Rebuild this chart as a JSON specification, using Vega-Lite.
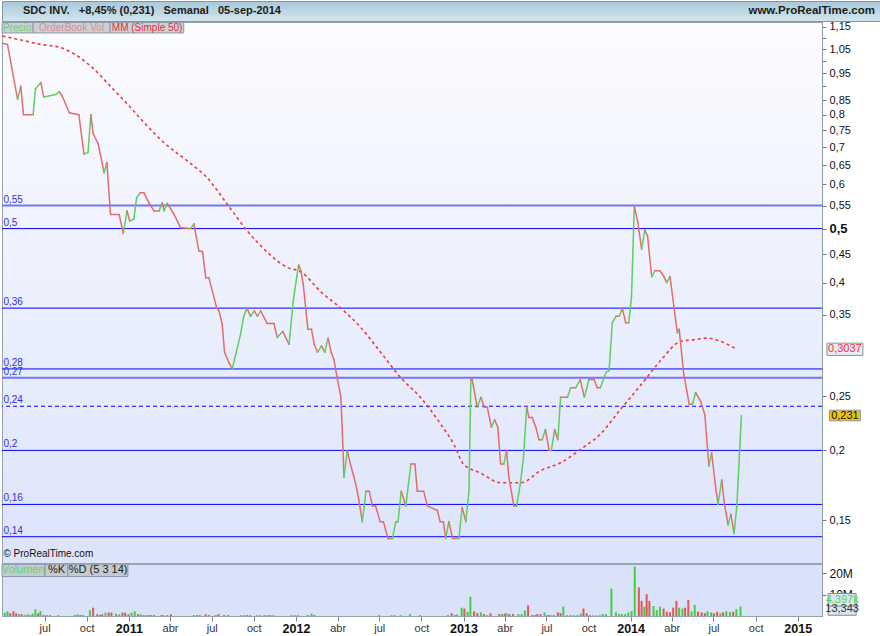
{
  "$schema": "https://vega.github.io/schema/vega-lite/v6.json",
  "padding": {"left": -2, "top": 0, "right": 0, "bottom": 0},
  "background": "#ffffff",
  "spacing": 1,
  "bounds": "flush",
  "config": {"font": "Liberation Sans", "view": {"stroke": null}},
  "datasets": {
    "price": [
      {"date": "2010-03-31", "close": 1.075}, {"date": "2010-04-11", "close": 1.07}, {"date": "2010-05-03", "close": 0.853},
      {"date": "2010-05-10", "close": 0.9}, {"date": "2010-05-16", "close": 0.8}, {"date": "2010-06-06", "close": 0.8},
      {"date": "2010-06-11", "close": 0.89}, {"date": "2010-06-23", "close": 0.914}, {"date": "2010-06-29", "close": 0.861},
      {"date": "2010-07-25", "close": 0.87}, {"date": "2010-08-02", "close": 0.88}, {"date": "2010-08-09", "close": 0.863},
      {"date": "2010-08-24", "close": 0.807}, {"date": "2010-09-14", "close": 0.8}, {"date": "2010-09-25", "close": 0.68},
      {"date": "2010-10-04", "close": 0.685}, {"date": "2010-10-10", "close": 0.8}, {"date": "2010-10-15", "close": 0.74},
      {"date": "2010-10-26", "close": 0.71}, {"date": "2010-11-08", "close": 0.63}, {"date": "2010-11-14", "close": 0.657},
      {"date": "2010-11-22", "close": 0.53}, {"date": "2010-12-11", "close": 0.53}, {"date": "2010-12-20", "close": 0.49},
      {"date": "2010-12-28", "close": 0.538}, {"date": "2011-01-03", "close": 0.516}, {"date": "2011-01-12", "close": 0.52},
      {"date": "2011-01-18", "close": 0.568}, {"date": "2011-01-26", "close": 0.58}, {"date": "2011-02-03", "close": 0.58},
      {"date": "2011-02-14", "close": 0.556}, {"date": "2011-02-25", "close": 0.538}, {"date": "2011-03-08", "close": 0.538},
      {"date": "2011-03-15", "close": 0.556}, {"date": "2011-03-19", "close": 0.538}, {"date": "2011-03-26", "close": 0.555},
      {"date": "2011-04-10", "close": 0.53}, {"date": "2011-04-24", "close": 0.502}, {"date": "2011-05-16", "close": 0.5},
      {"date": "2011-05-23", "close": 0.51}, {"date": "2011-06-03", "close": 0.456}, {"date": "2011-06-11", "close": 0.455},
      {"date": "2011-06-18", "close": 0.408}, {"date": "2011-06-25", "close": 0.408}, {"date": "2011-07-12", "close": 0.36},
      {"date": "2011-07-17", "close": 0.356}, {"date": "2011-07-24", "close": 0.337}, {"date": "2011-07-29", "close": 0.3},
      {"date": "2011-08-08", "close": 0.287}, {"date": "2011-08-15", "close": 0.28}, {"date": "2011-09-02", "close": 0.323},
      {"date": "2011-09-09", "close": 0.348}, {"date": "2011-09-16", "close": 0.36}, {"date": "2011-09-24", "close": 0.348},
      {"date": "2011-10-02", "close": 0.356}, {"date": "2011-10-09", "close": 0.348}, {"date": "2011-10-16", "close": 0.356},
      {"date": "2011-10-30", "close": 0.338}, {"date": "2011-11-14", "close": 0.338}, {"date": "2011-11-21", "close": 0.319},
      {"date": "2011-12-03", "close": 0.327}, {"date": "2011-12-17", "close": 0.31}, {"date": "2011-12-26", "close": 0.37},
      {"date": "2012-01-03", "close": 0.411}, {"date": "2012-01-07", "close": 0.43}, {"date": "2012-01-12", "close": 0.42},
      {"date": "2012-01-17", "close": 0.397}, {"date": "2012-01-27", "close": 0.33}, {"date": "2012-02-04", "close": 0.33},
      {"date": "2012-02-10", "close": 0.31}, {"date": "2012-02-17", "close": 0.3}, {"date": "2012-02-26", "close": 0.308},
      {"date": "2012-03-04", "close": 0.3}, {"date": "2012-03-11", "close": 0.318}, {"date": "2012-03-18", "close": 0.3},
      {"date": "2012-03-24", "close": 0.291}, {"date": "2012-03-31", "close": 0.27}, {"date": "2012-04-08", "close": 0.25},
      {"date": "2012-04-11", "close": 0.22}, {"date": "2012-04-15", "close": 0.179}, {"date": "2012-04-22", "close": 0.2},
      {"date": "2012-04-29", "close": 0.189}, {"date": "2012-05-07", "close": 0.179}, {"date": "2012-05-14", "close": 0.169},
      {"date": "2012-05-25", "close": 0.149}, {"date": "2012-06-02", "close": 0.169}, {"date": "2012-06-09", "close": 0.169},
      {"date": "2012-06-16", "close": 0.159}, {"date": "2012-06-23", "close": 0.159}, {"date": "2012-07-03", "close": 0.149},
      {"date": "2012-07-10", "close": 0.149}, {"date": "2012-07-20", "close": 0.139}, {"date": "2012-07-30", "close": 0.139},
      {"date": "2012-08-06", "close": 0.149}, {"date": "2012-08-11", "close": 0.149}, {"date": "2012-08-18", "close": 0.169},
      {"date": "2012-08-28", "close": 0.159}, {"date": "2012-09-08", "close": 0.189}, {"date": "2012-09-17", "close": 0.189},
      {"date": "2012-09-22", "close": 0.169}, {"date": "2012-10-06", "close": 0.169}, {"date": "2012-10-14", "close": 0.159},
      {"date": "2012-11-05", "close": 0.156}, {"date": "2012-11-11", "close": 0.149}, {"date": "2012-11-18", "close": 0.149},
      {"date": "2012-11-23", "close": 0.139}, {"date": "2012-11-30", "close": 0.149}, {"date": "2012-12-08", "close": 0.139},
      {"date": "2012-12-22", "close": 0.139}, {"date": "2012-12-29", "close": 0.158}, {"date": "2013-01-06", "close": 0.149},
      {"date": "2013-01-13", "close": 0.169}, {"date": "2013-01-17", "close": 0.268}, {"date": "2013-01-20", "close": 0.268},
      {"date": "2013-01-31", "close": 0.239}, {"date": "2013-02-08", "close": 0.249}, {"date": "2013-02-15", "close": 0.239},
      {"date": "2013-02-22", "close": 0.239}, {"date": "2013-03-03", "close": 0.22}, {"date": "2013-03-10", "close": 0.227},
      {"date": "2013-03-17", "close": 0.22}, {"date": "2013-03-23", "close": 0.189}, {"date": "2013-03-30", "close": 0.189},
      {"date": "2013-04-05", "close": 0.2}, {"date": "2013-04-10", "close": 0.179}, {"date": "2013-04-21", "close": 0.159},
      {"date": "2013-04-27", "close": 0.159}, {"date": "2013-05-05", "close": 0.174}, {"date": "2013-05-12", "close": 0.194},
      {"date": "2013-05-19", "close": 0.239}, {"date": "2013-05-24", "close": 0.229}, {"date": "2013-05-31", "close": 0.229},
      {"date": "2013-06-08", "close": 0.22}, {"date": "2013-06-15", "close": 0.209}, {"date": "2013-06-22", "close": 0.209},
      {"date": "2013-06-29", "close": 0.218}, {"date": "2013-07-07", "close": 0.2}, {"date": "2013-07-12", "close": 0.2},
      {"date": "2013-07-19", "close": 0.218}, {"date": "2013-07-26", "close": 0.209}, {"date": "2013-08-01", "close": 0.249},
      {"date": "2013-08-16", "close": 0.249}, {"date": "2013-08-23", "close": 0.259}, {"date": "2013-09-03", "close": 0.259},
      {"date": "2013-09-13", "close": 0.268}, {"date": "2013-09-22", "close": 0.249}, {"date": "2013-10-02", "close": 0.268},
      {"date": "2013-10-13", "close": 0.268}, {"date": "2013-10-20", "close": 0.259}, {"date": "2013-10-27", "close": 0.259},
      {"date": "2013-11-08", "close": 0.276}, {"date": "2013-11-15", "close": 0.278}, {"date": "2013-11-22", "close": 0.339},
      {"date": "2013-11-30", "close": 0.348}, {"date": "2013-12-07", "close": 0.348}, {"date": "2013-12-14", "close": 0.36},
      {"date": "2013-12-21", "close": 0.339}, {"date": "2013-12-28", "close": 0.339}, {"date": "2014-01-03", "close": 0.378},
      {"date": "2014-01-09", "close": 0.549}, {"date": "2014-01-17", "close": 0.512}, {"date": "2014-01-25", "close": 0.459},
      {"date": "2014-02-01", "close": 0.497}, {"date": "2014-02-07", "close": 0.485}, {"date": "2014-02-16", "close": 0.41},
      {"date": "2014-02-23", "close": 0.42}, {"date": "2014-03-06", "close": 0.42}, {"date": "2014-03-14", "close": 0.411},
      {"date": "2014-03-21", "close": 0.4}, {"date": "2014-03-28", "close": 0.41}, {"date": "2014-04-06", "close": 0.36},
      {"date": "2014-04-13", "close": 0.325}, {"date": "2014-04-17", "close": 0.33}, {"date": "2014-04-27", "close": 0.274},
      {"date": "2014-05-09", "close": 0.242}, {"date": "2014-05-16", "close": 0.242}, {"date": "2014-05-23", "close": 0.254},
      {"date": "2014-06-03", "close": 0.245}, {"date": "2014-06-12", "close": 0.232}, {"date": "2014-06-21", "close": 0.1875},
      {"date": "2014-06-27", "close": 0.198}, {"date": "2014-07-06", "close": 0.171}, {"date": "2014-07-11", "close": 0.16},
      {"date": "2014-07-19", "close": 0.177}, {"date": "2014-07-25", "close": 0.16}, {"date": "2014-08-02", "close": 0.147},
      {"date": "2014-08-08", "close": 0.1536}, {"date": "2014-08-15", "close": 0.142}, {"date": "2014-08-21", "close": 0.159},
      {"date": "2014-08-31", "close": 0.231}
    ],
    "ma": [
      {"date": "2010-03-31", "ma": 1.108}, {"date": "2010-05-10", "ma": 1.09}, {"date": "2010-06-23", "ma": 1.07},
      {"date": "2010-08-05", "ma": 1.056}, {"date": "2010-09-11", "ma": 1.02}, {"date": "2010-10-17", "ma": 0.966},
      {"date": "2010-11-22", "ma": 0.9}, {"date": "2010-12-29", "ma": 0.836}, {"date": "2011-02-04", "ma": 0.774},
      {"date": "2011-03-19", "ma": 0.713}, {"date": "2011-05-09", "ma": 0.661}, {"date": "2011-06-21", "ma": 0.617},
      {"date": "2011-08-04", "ma": 0.553}, {"date": "2011-09-17", "ma": 0.495}, {"date": "2011-10-31", "ma": 0.453},
      {"date": "2011-12-13", "ma": 0.426}, {"date": "2012-01-12", "ma": 0.418}, {"date": "2012-02-26", "ma": 0.384},
      {"date": "2012-04-08", "ma": 0.36}, {"date": "2012-05-22", "ma": 0.332}, {"date": "2012-07-04", "ma": 0.3},
      {"date": "2012-08-17", "ma": 0.27}, {"date": "2012-09-29", "ma": 0.249}, {"date": "2012-11-12", "ma": 0.223},
      {"date": "2012-12-11", "ma": 0.205}, {"date": "2013-01-01", "ma": 0.189}, {"date": "2013-02-08", "ma": 0.182},
      {"date": "2013-03-23", "ma": 0.175}, {"date": "2013-05-06", "ma": 0.175}, {"date": "2013-06-19", "ma": 0.184},
      {"date": "2013-08-01", "ma": 0.19}, {"date": "2013-09-14", "ma": 0.201}, {"date": "2013-10-27", "ma": 0.214},
      {"date": "2013-12-10", "ma": 0.237}, {"date": "2014-01-25", "ma": 0.263}, {"date": "2014-03-09", "ma": 0.291},
      {"date": "2014-04-21", "ma": 0.314}, {"date": "2014-05-20", "ma": 0.316}, {"date": "2014-06-18", "ma": 0.318},
      {"date": "2014-07-16", "ma": 0.314}, {"date": "2014-08-21", "ma": 0.3037}
    ],
    "levels": [
      {"level": 0.55, "label": "0,55"}, {"level": 0.5, "label": "0,5"}, {"level": 0.36, "label": "0,36"},
      {"level": 0.28, "label": "0,28"}, {"level": 0.27, "label": "0,27"}, {"level": 0.24, "label": "0,24"},
      {"level": 0.2, "label": "0,2"}, {"level": 0.16, "label": "0,16"}, {"level": 0.14, "label": "0,14"}
    ],
    "volume": [
      {"date": "2010-04-05", "volume": 1600000, "dir": "up"}, {"date": "2010-04-11", "volume": 2200000, "dir": "up"},
      {"date": "2010-04-17", "volume": 1300000, "dir": "down"}, {"date": "2010-04-24", "volume": 2200000, "dir": "down"},
      {"date": "2010-04-30", "volume": 1300000, "dir": "down"}, {"date": "2010-05-06", "volume": 900000, "dir": "up"},
      {"date": "2010-05-12", "volume": 900000, "dir": "down"}, {"date": "2010-05-19", "volume": 500000, "dir": "up"},
      {"date": "2010-05-25", "volume": 900000, "dir": "up"}, {"date": "2010-05-31", "volume": 500000, "dir": "up"},
      {"date": "2010-06-05", "volume": 1100000, "dir": "up"}, {"date": "2010-06-11", "volume": 3200000, "dir": "up"},
      {"date": "2010-06-17", "volume": 1300000, "dir": "down"}, {"date": "2010-06-22", "volume": 2400000, "dir": "up"},
      {"date": "2010-06-29", "volume": 500000, "dir": "down"}, {"date": "2010-07-06", "volume": 500000, "dir": "up"},
      {"date": "2010-07-13", "volume": 500000, "dir": "up"}, {"date": "2010-07-31", "volume": 400000, "dir": "up"},
      {"date": "2010-09-05", "volume": 400000, "dir": "down"}, {"date": "2010-09-11", "volume": 800000, "dir": "up"},
      {"date": "2010-09-17", "volume": 500000, "dir": "down"}, {"date": "2010-09-23", "volume": 400000, "dir": "down"},
      {"date": "2010-10-08", "volume": 2700000, "dir": "up"}, {"date": "2010-10-15", "volume": 3900000, "dir": "down"},
      {"date": "2010-10-24", "volume": 800000, "dir": "down"}, {"date": "2010-10-30", "volume": 500000, "dir": "down"},
      {"date": "2010-11-04", "volume": 800000, "dir": "down"}, {"date": "2010-11-11", "volume": 1600000, "dir": "up"},
      {"date": "2010-11-18", "volume": 1600000, "dir": "down"}, {"date": "2010-11-24", "volume": 1600000, "dir": "down"},
      {"date": "2010-12-04", "volume": 1100000, "dir": "up"}, {"date": "2010-12-11", "volume": 800000, "dir": "up"},
      {"date": "2010-12-18", "volume": 1600000, "dir": "down"}, {"date": "2010-12-24", "volume": 1600000, "dir": "down"},
      {"date": "2010-12-31", "volume": 800000, "dir": "down"}, {"date": "2011-01-07", "volume": 1600000, "dir": "up"},
      {"date": "2011-01-14", "volume": 2200000, "dir": "up"}, {"date": "2011-01-21", "volume": 800000, "dir": "down"},
      {"date": "2011-01-27", "volume": 800000, "dir": "up"}, {"date": "2011-02-02", "volume": 400000, "dir": "down"},
      {"date": "2011-02-08", "volume": 400000, "dir": "down"}, {"date": "2011-02-14", "volume": 400000, "dir": "down"},
      {"date": "2011-02-19", "volume": 400000, "dir": "down"}, {"date": "2011-02-25", "volume": 400000, "dir": "down"},
      {"date": "2011-03-12", "volume": 400000, "dir": "up"}, {"date": "2011-03-17", "volume": 400000, "dir": "down"},
      {"date": "2011-03-26", "volume": 400000, "dir": "down"}, {"date": "2011-04-03", "volume": 800000, "dir": "down"},
      {"date": "2011-05-23", "volume": 400000, "dir": "down"}, {"date": "2011-05-30", "volume": 400000, "dir": "down"},
      {"date": "2011-06-05", "volume": 400000, "dir": "down"}, {"date": "2011-06-18", "volume": 800000, "dir": "down"},
      {"date": "2011-06-25", "volume": 400000, "dir": "down"}, {"date": "2011-07-10", "volume": 400000, "dir": "down"},
      {"date": "2011-07-16", "volume": 800000, "dir": "down"}, {"date": "2011-07-28", "volume": 400000, "dir": "down"},
      {"date": "2011-08-06", "volume": 400000, "dir": "down"}, {"date": "2011-09-03", "volume": 400000, "dir": "up"},
      {"date": "2011-09-10", "volume": 400000, "dir": "up"}, {"date": "2011-09-16", "volume": 400000, "dir": "down"},
      {"date": "2011-09-23", "volume": 400000, "dir": "up"}, {"date": "2011-10-08", "volume": 400000, "dir": "up"},
      {"date": "2011-10-15", "volume": 400000, "dir": "up"}, {"date": "2011-10-24", "volume": 400000, "dir": "down"},
      {"date": "2011-10-31", "volume": 400000, "dir": "down"}, {"date": "2011-11-06", "volume": 400000, "dir": "down"},
      {"date": "2011-11-13", "volume": 400000, "dir": "up"}, {"date": "2011-12-22", "volume": 400000, "dir": "up"},
      {"date": "2011-12-29", "volume": 400000, "dir": "up"}, {"date": "2012-01-05", "volume": 400000, "dir": "up"},
      {"date": "2012-01-27", "volume": 400000, "dir": "down"}, {"date": "2012-02-04", "volume": 1100000, "dir": "up"},
      {"date": "2012-02-10", "volume": 400000, "dir": "down"}, {"date": "2012-07-01", "volume": 400000, "dir": "up"},
      {"date": "2012-07-28", "volume": 400000, "dir": "up"}, {"date": "2012-08-04", "volume": 400000, "dir": "up"},
      {"date": "2012-08-17", "volume": 400000, "dir": "up"}, {"date": "2012-09-06", "volume": 800000, "dir": "up"},
      {"date": "2012-09-28", "volume": 400000, "dir": "up"}, {"date": "2012-11-28", "volume": 500000, "dir": "up"},
      {"date": "2012-12-06", "volume": 1300000, "dir": "down"}, {"date": "2012-12-13", "volume": 500000, "dir": "up"},
      {"date": "2012-12-18", "volume": 700000, "dir": "up"}, {"date": "2012-12-28", "volume": 3900000, "dir": "up"},
      {"date": "2013-01-03", "volume": 3500000, "dir": "down"}, {"date": "2013-01-10", "volume": 2000000, "dir": "up"},
      {"date": "2013-01-16", "volume": 9000000, "dir": "up"}, {"date": "2013-01-24", "volume": 2200000, "dir": "down"},
      {"date": "2013-01-31", "volume": 1400000, "dir": "down"}, {"date": "2013-02-08", "volume": 1700000, "dir": "up"},
      {"date": "2013-02-15", "volume": 900000, "dir": "down"}, {"date": "2013-02-22", "volume": 400000, "dir": "up"},
      {"date": "2013-03-01", "volume": 1300000, "dir": "down"}, {"date": "2013-03-20", "volume": 900000, "dir": "down"},
      {"date": "2013-03-26", "volume": 900000, "dir": "up"}, {"date": "2013-04-01", "volume": 1100000, "dir": "down"},
      {"date": "2013-04-05", "volume": 1300000, "dir": "up"}, {"date": "2013-04-11", "volume": 900000, "dir": "down"},
      {"date": "2013-04-19", "volume": 900000, "dir": "down"}, {"date": "2013-05-01", "volume": 900000, "dir": "up"},
      {"date": "2013-05-08", "volume": 900000, "dir": "up"}, {"date": "2013-05-15", "volume": 2600000, "dir": "up"},
      {"date": "2013-05-22", "volume": 5000000, "dir": "down"}, {"date": "2013-05-31", "volume": 500000, "dir": "down"},
      {"date": "2013-06-06", "volume": 500000, "dir": "up"}, {"date": "2013-06-11", "volume": 900000, "dir": "down"},
      {"date": "2013-06-18", "volume": 900000, "dir": "down"}, {"date": "2013-06-27", "volume": 1700000, "dir": "up"},
      {"date": "2013-07-04", "volume": 500000, "dir": "down"}, {"date": "2013-07-10", "volume": 500000, "dir": "up"},
      {"date": "2013-07-17", "volume": 500000, "dir": "up"}, {"date": "2013-07-26", "volume": 1700000, "dir": "down"},
      {"date": "2013-08-01", "volume": 1300000, "dir": "down"}, {"date": "2013-08-07", "volume": 4400000, "dir": "up"},
      {"date": "2013-08-15", "volume": 300000, "dir": "down"}, {"date": "2013-08-23", "volume": 500000, "dir": "up"},
      {"date": "2013-08-30", "volume": 300000, "dir": "down"}, {"date": "2013-09-07", "volume": 300000, "dir": "down"},
      {"date": "2013-09-14", "volume": 1100000, "dir": "up"}, {"date": "2013-09-20", "volume": 3500000, "dir": "down"},
      {"date": "2013-09-27", "volume": 1300000, "dir": "down"}, {"date": "2013-10-04", "volume": 500000, "dir": "up"},
      {"date": "2013-10-11", "volume": 300000, "dir": "up"}, {"date": "2013-10-18", "volume": 300000, "dir": "up"},
      {"date": "2013-10-26", "volume": 300000, "dir": "down"}, {"date": "2013-11-01", "volume": 900000, "dir": "up"},
      {"date": "2013-11-08", "volume": 900000, "dir": "up"}, {"date": "2013-11-20", "volume": 12900000, "dir": "up"},
      {"date": "2013-11-30", "volume": 1700000, "dir": "up"}, {"date": "2013-12-07", "volume": 900000, "dir": "up"},
      {"date": "2013-12-13", "volume": 900000, "dir": "up"}, {"date": "2013-12-20", "volume": 900000, "dir": "up"},
      {"date": "2013-12-27", "volume": 1700000, "dir": "up"}, {"date": "2014-01-03", "volume": 2400000, "dir": "up"},
      {"date": "2014-01-10", "volume": 23200000, "dir": "up"}, {"date": "2014-01-19", "volume": 13400000, "dir": "down"},
      {"date": "2014-01-25", "volume": 7100000, "dir": "down"}, {"date": "2014-01-31", "volume": 4400000, "dir": "up"},
      {"date": "2014-02-05", "volume": 10200000, "dir": "down"}, {"date": "2014-02-11", "volume": 7100000, "dir": "down"},
      {"date": "2014-02-20", "volume": 4700000, "dir": "up"}, {"date": "2014-02-27", "volume": 2800000, "dir": "up"},
      {"date": "2014-03-06", "volume": 4400000, "dir": "up"}, {"date": "2014-03-14", "volume": 3500000, "dir": "down"},
      {"date": "2014-03-21", "volume": 2000000, "dir": "down"}, {"date": "2014-03-28", "volume": 1700000, "dir": "down"},
      {"date": "2014-04-04", "volume": 3900000, "dir": "down"}, {"date": "2014-04-11", "volume": 7100000, "dir": "down"},
      {"date": "2014-04-17", "volume": 3900000, "dir": "up"}, {"date": "2014-04-24", "volume": 3500000, "dir": "up"},
      {"date": "2014-04-30", "volume": 3900000, "dir": "down"}, {"date": "2014-05-07", "volume": 7600000, "dir": "down"},
      {"date": "2014-05-14", "volume": 2200000, "dir": "up"}, {"date": "2014-05-21", "volume": 5200000, "dir": "up"},
      {"date": "2014-05-28", "volume": 2000000, "dir": "down"}, {"date": "2014-06-05", "volume": 1700000, "dir": "down"},
      {"date": "2014-06-12", "volume": 1300000, "dir": "down"}, {"date": "2014-06-18", "volume": 2200000, "dir": "up"},
      {"date": "2014-06-26", "volume": 1700000, "dir": "up"}, {"date": "2014-07-02", "volume": 1300000, "dir": "down"},
      {"date": "2014-07-09", "volume": 2000000, "dir": "down"}, {"date": "2014-07-16", "volume": 1300000, "dir": "up"},
      {"date": "2014-07-22", "volume": 1700000, "dir": "down"}, {"date": "2014-07-29", "volume": 2200000, "dir": "up"},
      {"date": "2014-08-06", "volume": 1900000, "dir": "up"}, {"date": "2014-08-13", "volume": 2000000, "dir": "down"},
      {"date": "2014-08-20", "volume": 3200000, "dir": "up"}, {"date": "2014-08-29", "volume": 4400000, "dir": "up"}
    ]
  },
  "vconcat": [
    {
      "width": 878,
      "height": 20,
      "view": {"fill": {"gradient": "linear", "x1": 0, "y1": 0, "x2": 0, "y2": 1, "stops": [{"offset": 0, "color": "#a9c8d9"}, {"offset": 1, "color": "#d3e6ee"}]}, "stroke": "#7f98a8"},
      "data": {"values": [
        {"side": "left", "label": "SDC INV.\u00a0\u00a0 +8,45% (0,231)\u00a0\u00a0 Semanal\u00a0\u00a0 05-sep-2014"},
        {"side": "right", "label": "www.ProRealTime.com"}
      ]},
      "layer": [
        {
          "transform": [{"filter": "datum.side == 'left'"}],
          "mark": {"type": "text", "align": "left", "baseline": "middle", "fontWeight": "bold", "fontSize": 11, "color": "#1b1b1b"},
          "encoding": {
            "x": {"field": "side", "type": "nominal", "scale": {"type": "point", "domain": ["left", "right"], "range": [21, 873], "padding": 0}, "axis": null},
            "text": {"field": "label"}
          }
        },
        {
          "transform": [{"filter": "datum.side == 'right'"}],
          "mark": {"type": "text", "align": "right", "baseline": "middle", "fontWeight": "bold", "fontSize": 11.5, "color": "#1b1b1b"},
          "encoding": {
            "x": {"field": "side", "type": "nominal", "scale": {"type": "point", "domain": ["left", "right"], "range": [21, 873], "padding": 0}, "axis": null},
            "text": {"field": "label"}
          }
        }
      ]
    },
    {
      "width": 820,
      "height": 541,
      "view": {"fill": {"gradient": "linear", "x1": 0, "y1": 0, "x2": 0, "y2": 1, "stops": [{"offset": 0, "color": "#fcfcff"}, {"offset": 1, "color": "#dce4fb"}]}, "stroke": "#98a3ae"},
      "layer": [
        {
          "data": {"name": "levels"},
          "mark": {"type": "rule"},
          "encoding": {
            "y": {"field": "level", "type": "quantitative",
              "scale": {"type": "log", "domain": [0.1256, 1.174], "nice": false},
              "axis": {"orient": "right", "title": null, "grid": false,
                "values": [1.15, 1.1, 1.05, 1, 0.95, 0.9, 0.85, 0.8, 0.75, 0.7, 0.65, 0.6, 0.55, 0.5, 0.45, 0.4, 0.35, 0.25, 0.2, 0.15],
                "labelExpr": "indexof([1.1, 1, 0.9], datum.value) >= 0 ? '' : replace(format(datum.value, '.2~f'), '.', ',')",
                "tickSize": 4, "tickColor": "#6b7785", "domainColor": "#8d99a6", "labelColor": "#111111", "labelPadding": 3,
                "labelFontSize": {"condition": {"test": "datum.value == 0.5", "value": 13}, "value": 11},
                "labelFontWeight": {"condition": {"test": "datum.value == 0.5", "value": "bold"}, "value": "normal"},
                "labelOverlap": false}},
            "color": {"condition": {"test": "datum.level == 0.55 || datum.level == 0.27", "value": "#7474f4"}, "value": "#0000ff"},
            "strokeWidth": {"condition": {"test": "datum.level == 0.55 || datum.level == 0.27", "value": 2}, "value": 1},
            "strokeDash": {"condition": {"test": "datum.level == 0.24", "value": [4, 3]}, "value": [1, 0]}
          }
        },
        {
          "data": {"name": "levels"},
          "mark": {"type": "text", "align": "left", "baseline": "bottom", "dx": 1, "dy": -1, "fontSize": 10, "color": "#3030e0"},
          "encoding": {
            "x": {"datum": {"year": 2010, "month": 3, "date": 31, "utc": true}, "type": "temporal",
              "scale": {"type": "utc", "padding": 0, "domain": [{"year": 2010, "month": 3, "date": 30, "utc": true}, {"year": 2015, "month": 2, "date": 23, "utc": true}]}, "axis": null},
            "y": {"field": "level", "type": "quantitative", "scale": {"type": "log", "domain": [0.1256, 1.174], "nice": false}},
            "text": {"field": "label"}
          }
        },
        {
          "data": {"name": "ma", "format": {"parse": {"date": "date"}}},
          "mark": {"type": "line", "color": "#f03a3a", "strokeWidth": 1.6, "strokeDash": [3, 3], "interpolate": "monotone"},
          "encoding": {
            "x": {"field": "date", "type": "temporal",
              "scale": {"type": "utc", "padding": 0, "domain": [{"year": 2010, "month": 3, "date": 30, "utc": true}, {"year": 2015, "month": 2, "date": 23, "utc": true}]}, "axis": null},
            "y": {"field": "ma", "type": "quantitative", "scale": {"type": "log", "domain": [0.1256, 1.174], "nice": false}}
          }
        },
        {
          "data": {"name": "price", "format": {"parse": {"date": "date"}}},
          "transform": [
            {"window": [{"op": "lag", "field": "close", "as": "prev_close"}, {"op": "lag", "field": "date", "as": "prev_date"}], "sort": [{"field": "date", "order": "ascending"}]},
            {"filter": "datum.prev_close != null"}
          ],
          "mark": {"type": "rule", "strokeWidth": 1.5, "strokeCap": "round"},
          "encoding": {
            "x": {"field": "prev_date", "type": "temporal",
              "scale": {"type": "utc", "padding": 0, "domain": [{"year": 2010, "month": 3, "date": 30, "utc": true}, {"year": 2015, "month": 2, "date": 23, "utc": true}]}, "axis": null},
            "x2": {"field": "date"},
            "y": {"field": "prev_close", "type": "quantitative", "scale": {"type": "log", "domain": [0.1256, 1.174], "nice": false}},
            "y2": {"field": "close"},
            "color": {"condition": {"test": "datum.close > datum.prev_close", "value": "#5ccf5c"}, "value": "#e46c6c"}
          }
        },
        {
          "data": {"values": [{"label": "Precio"}]},
          "layer": [
            {"mark": {"type": "rect", "fill": "#c9d0d8", "stroke": "#8f98a3", "strokeWidth": 1},
              "encoding": {
                "x": {"datum": {"year": 2010, "month": 3, "date": 30, "utc": true}, "type": "temporal"},
                "x2": {"datum": {"year": 2010, "month": 6, "date": 6, "utc": true}},
                "y": {"datum": 1.172, "type": "quantitative"},
                "y2": {"datum": 1.122}}},
            {"mark": {"type": "text", "fontSize": 10, "color": "#6ad46a", "baseline": "middle"},
              "encoding": {
                "x": {"datum": {"year": 2010, "month": 5, "date": 2, "utc": true}, "type": "temporal"},
                "y": {"datum": 1.147, "type": "quantitative"},
                "text": {"field": "label"}}}
          ]
        },
        {
          "data": {"values": [{"label": "OrderBook Vol"}]},
          "layer": [
            {"mark": {"type": "rect", "fill": "#c9d0d8", "stroke": "#8f98a3", "strokeWidth": 1},
              "encoding": {
                "x": {"datum": {"year": 2010, "month": 6, "date": 6, "utc": true}, "type": "temporal"},
                "x2": {"datum": {"year": 2010, "month": 11, "date": 21, "utc": true}},
                "y": {"datum": 1.172, "type": "quantitative"},
                "y2": {"datum": 1.122}}},
            {"mark": {"type": "text", "fontSize": 10, "color": "#e28a8a", "baseline": "middle"},
              "encoding": {
                "x": {"datum": {"year": 2010, "month": 8, "date": 29, "utc": true}, "type": "temporal"},
                "y": {"datum": 1.147, "type": "quantitative"},
                "text": {"field": "label"}}}
          ]
        },
        {
          "data": {"values": [{"label": "MM (Simple 50)"}]},
          "layer": [
            {"mark": {"type": "rect", "fill": "#c9d0d8", "stroke": "#8f98a3", "strokeWidth": 1},
              "encoding": {
                "x": {"datum": {"year": 2010, "month": 11, "date": 21, "utc": true}, "type": "temporal"},
                "x2": {"datum": {"year": 2011, "month": 5, "date": 1, "utc": true}},
                "y": {"datum": 1.172, "type": "quantitative"},
                "y2": {"datum": 1.122}}},
            {"mark": {"type": "text", "fontSize": 10, "color": "#e3303a", "baseline": "middle"},
              "encoding": {
                "x": {"datum": {"year": 2011, "month": 2, "date": 10, "utc": true}, "type": "temporal"},
                "y": {"datum": 1.147, "type": "quantitative"},
                "text": {"field": "label"}}}
          ]
        },
        {
          "data": {"values": [{"label": "© ProRealTime.com"}]},
          "mark": {"type": "text", "align": "left", "baseline": "middle", "fontSize": 10, "color": "#111111", "dx": 1},
          "encoding": {
            "x": {"datum": {"year": 2010, "month": 3, "date": 31, "utc": true}, "type": "temporal"},
            "y": {"datum": 0.1304, "type": "quantitative"},
            "text": {"field": "label"}
          }
        },
        {
          "data": {"values": [{"label": "0,3037", "value": 0.3037, "kind": "ma"}, {"label": "0,231", "value": 0.231, "kind": "last"}]},
          "layer": [
            {"mark": {"type": "point", "shape": "M-1,-0.34H1V0.34H-1Z", "filled": true, "stroke": "#8796a5", "strokeWidth": 1, "opacity": 1},
              "encoding": {
                "x": {"datum": {"year": 2015, "month": 4, "date": 14, "utc": true}, "type": "temporal"},
                "y": {"field": "value", "type": "quantitative"},
                "fill": {"condition": {"test": "datum.kind == 'ma'", "value": "#e6ecf4"}, "value": "#f4c400"},
                "size": {"condition": {"test": "datum.kind == 'ma'", "value": 1296}, "value": 961}}},
            {"mark": {"type": "text", "fontSize": 11, "baseline": "middle"},
              "encoding": {
                "x": {"datum": {"year": 2015, "month": 4, "date": 14, "utc": true}, "type": "temporal"},
                "y": {"field": "value", "type": "quantitative"},
                "text": {"field": "label"},
                "color": {"condition": {"test": "datum.kind == 'ma'", "value": "#ff2a2a"}, "value": "#111111"}}}
          ]
        }
      ]
    },
    {
      "width": 820,
      "height": 52,
      "view": {"fill": "#dae2fa", "stroke": "#98a3ae"},
      "layer": [
        {
          "data": {"name": "volume", "format": {"parse": {"date": "date"}}},
          "mark": {"type": "bar", "size": 2},
          "encoding": {
            "x": {"field": "date", "type": "temporal",
              "scale": {"type": "utc", "padding": 0, "domain": [{"year": 2010, "month": 3, "date": 30, "utc": true}, {"year": 2015, "month": 2, "date": 23, "utc": true}]},
              "axis": {"title": null, "grid": false, "tickSize": 5, "tickColor": "#7d8894", "domainColor": "#98a3ae", "labelPadding": 1,
                "values": [
                  {"year": 2010, "month": 7, "date": 1, "utc": true}, {"year": 2010, "month": 10, "date": 1, "utc": true},
                  {"year": 2011, "month": 1, "date": 1, "utc": true}, {"year": 2011, "month": 4, "date": 1, "utc": true},
                  {"year": 2011, "month": 7, "date": 1, "utc": true}, {"year": 2011, "month": 10, "date": 1, "utc": true},
                  {"year": 2012, "month": 1, "date": 1, "utc": true}, {"year": 2012, "month": 4, "date": 1, "utc": true},
                  {"year": 2012, "month": 7, "date": 1, "utc": true}, {"year": 2012, "month": 10, "date": 1, "utc": true},
                  {"year": 2013, "month": 1, "date": 1, "utc": true}, {"year": 2013, "month": 4, "date": 1, "utc": true},
                  {"year": 2013, "month": 7, "date": 1, "utc": true}, {"year": 2013, "month": 10, "date": 1, "utc": true},
                  {"year": 2014, "month": 1, "date": 1, "utc": true}, {"year": 2014, "month": 4, "date": 1, "utc": true},
                  {"year": 2014, "month": 7, "date": 1, "utc": true}, {"year": 2014, "month": 10, "date": 1, "utc": true},
                  {"year": 2015, "month": 1, "date": 1, "utc": true}
                ],
                "labelExpr": "utcmonth(datum.value) == 0 ? utcFormat(datum.value, '%Y') : ['ene','feb','mar','abr','may','jun','jul','ago','sep','oct','nov','dic'][utcmonth(datum.value)]",
                "labelFontSize": {"condition": {"test": "utcmonth(datum.value) == 0", "value": 12.5}, "value": 11},
                "labelFontWeight": {"condition": {"test": "utcmonth(datum.value) == 0", "value": "bold"}, "value": "normal"},
                "labelColor": {"condition": {"test": "utcmonth(datum.value) == 0", "value": "#111111"}, "value": "#333333"},
                "labelOverlap": false}},
            "y": {"field": "volume", "type": "quantitative",
              "scale": {"domain": [0, 24400000], "nice": false},
              "axis": {"orient": "right", "title": null, "grid": false, "values": [10000000, 20000000],
                "labelExpr": "(datum.value / 1000000) + 'M'", "tickSize": 4, "tickColor": "#6b7785", "domainColor": "#8d99a6",
                "labelColor": "#111111", "labelFontSize": 12, "labelPadding": 3}},
            "color": {"field": "dir", "type": "nominal", "scale": {"domain": ["up", "down"], "range": ["#3fcf3f", "#e25656"]}, "legend": null}
          }
        },
        {
          "data": {"values": [{"label": "Volumen"}]},
          "layer": [
            {"mark": {"type": "rect", "fill": "#c2cad3", "stroke": "#8f98a3", "strokeWidth": 1},
              "encoding": {
                "x": {"datum": {"year": 2010, "month": 3, "date": 30, "utc": true}, "type": "temporal"},
                "x2": {"datum": {"year": 2010, "month": 7, "date": 2, "utc": true}},
                "y": {"datum": 24300000, "type": "quantitative"},
                "y2": {"datum": 18500000}}},
            {"mark": {"type": "text", "fontSize": 11, "color": "#5fd95f", "baseline": "middle"},
              "encoding": {
                "x": {"datum": {"year": 2010, "month": 5, "date": 15, "utc": true}, "type": "temporal"},
                "y": {"datum": 21400000, "type": "quantitative"},
                "text": {"field": "label"}}}
          ]
        },
        {
          "data": {"values": [{"label": "%K"}]},
          "layer": [
            {"mark": {"type": "rect", "fill": "#c2cad3", "stroke": "#8f98a3", "strokeWidth": 1},
              "encoding": {
                "x": {"datum": {"year": 2010, "month": 7, "date": 2, "utc": true}, "type": "temporal"},
                "x2": {"datum": {"year": 2010, "month": 8, "date": 21, "utc": true}},
                "y": {"datum": 24300000, "type": "quantitative"},
                "y2": {"datum": 18500000}}},
            {"mark": {"type": "text", "fontSize": 11, "color": "#222222", "baseline": "middle"},
              "encoding": {
                "x": {"datum": {"year": 2010, "month": 7, "date": 27, "utc": true}, "type": "temporal"},
                "y": {"datum": 21400000, "type": "quantitative"},
                "text": {"field": "label"}}}
          ]
        },
        {
          "data": {"values": [{"label": "%D (5 3 14)"}]},
          "layer": [
            {"mark": {"type": "rect", "fill": "#c2cad3", "stroke": "#8f98a3", "strokeWidth": 1},
              "encoding": {
                "x": {"datum": {"year": 2010, "month": 8, "date": 21, "utc": true}, "type": "temporal"},
                "x2": {"datum": {"year": 2010, "month": 12, "date": 30, "utc": true}},
                "y": {"datum": 24300000, "type": "quantitative"},
                "y2": {"datum": 18500000}}},
            {"mark": {"type": "text", "fontSize": 11, "color": "#222222", "baseline": "middle"},
              "encoding": {
                "x": {"datum": {"year": 2010, "month": 10, "date": 26, "utc": true}, "type": "temporal"},
                "y": {"datum": 21400000, "type": "quantitative"},
                "text": {"field": "label"}}}
          ]
        },
        {
          "data": {"values": [{"label": "13,343", "value": 3300000, "kind": "k"}, {"label": "4.397k", "value": 7600000, "kind": "vol"}]},
          "layer": [
            {"mark": {"type": "point", "shape": "M-1,-0.45H1V0.45H-1Z", "filled": true, "size": 784, "fill": "#dde4ec", "stroke": "#7f8e9c", "strokeWidth": 1, "opacity": 1},
              "encoding": {
                "x": {"datum": {"year": 2015, "month": 4, "date": 8, "utc": true}, "type": "temporal"},
                "y": {"field": "value", "type": "quantitative"}}},
            {"mark": {"type": "text", "fontSize": 11, "baseline": "middle"},
              "encoding": {
                "x": {"datum": {"year": 2015, "month": 4, "date": 8, "utc": true}, "type": "temporal"},
                "y": {"field": "value", "type": "quantitative"},
                "text": {"field": "label"},
                "color": {"condition": {"test": "datum.kind == 'vol'", "value": "#4fd84f"}, "value": "#333333"}}}
          ]
        }
      ]
    }
  ]
}
